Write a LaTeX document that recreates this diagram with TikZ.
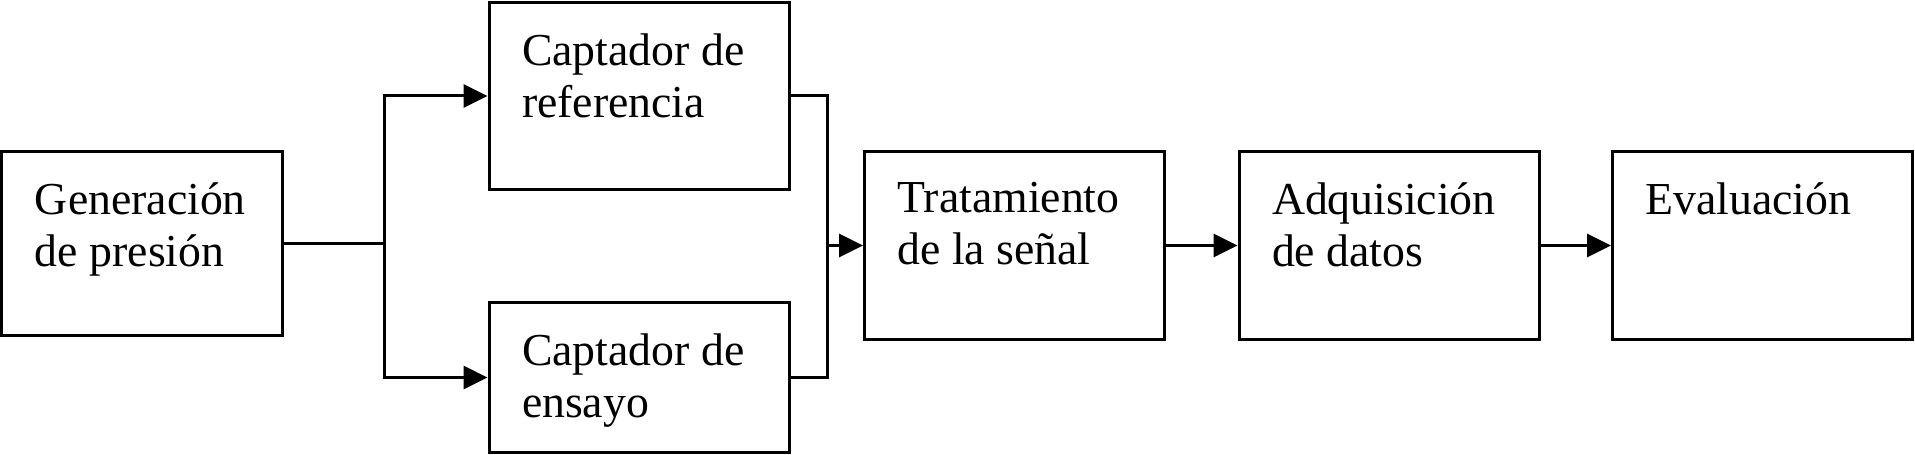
\documentclass[tikz,border=0pt]{standalone}
\usepackage{fontspec}
\setmainfont{Liberation Serif}
\usetikzlibrary{positioning, calc, arrows.meta}

\begin{document}
\begin{tikzpicture}[x=0.4pt, y=0.4pt,
        caja/.style={draw, line width=1.2pt, minimum width=120pt, minimum height=75.2pt, inner sep=0pt},
        texto/.style={anchor=north west, inner sep=0pt, align=left, font=\fontsize{18.3}{20.8}\selectfont},
        linea/.style={line width=1.2pt},
        flecha/.style={linea, -{Triangle[length=9.6pt, width=9.2pt]}}]
        \useasboundingbox (0,0) rectangle (1915,454);
        % bloques
        \node[caja, minimum width=112pt, minimum height=73.6pt] (gen) at (142,210.5) {};
        \node[caja, minimum height=74.4pt] (ref) at (639,358) {};
        \node[caja, minimum height=60pt] (ens) at (639,76.5) {};
        \node[caja] (trat) at (1014.5,208.5) {};
        \node[caja] (adq) at (1389,208.5) {};
        \node[caja] (eval) at (1762.5,208.5) {};
        %
        \node[texto] (gentxt) at ([shift={(34,-32)}]gen.north west) {Generación\\de presión};
        \node[texto] (reftxt) at ([shift={(34,-32)}]ref.north west) {Captador de\\referencia};
        \node[texto] (enstxt) at ([shift={(34,-32)}]ens.north west) {Captador de\\ensayo};
        \node[texto] (trattxt) at ([shift={(34,-32)}]trat.north west) {Tratamiento\\de la señal};
        \node[texto] (adqtxt) at ([shift={(34,-32)}]adq.north west) {Adquisición\\de datos};
        \node[texto] (evaltxt) at ([shift={(34,-32)}]eval.north west) {Evaluación};
        % conexiones
        \coordinate (split) at (384,210.5);
        \coordinate (merge) at (827,208.5);
        \draw[linea] (gen.east) -- (split);
        \draw[flecha] (split) |- (ref.west);
        \draw[flecha] (split) |- (ens.west);
        \draw[linea] (ref.east) -| (merge);
        \draw[linea] (ens.east) -| (merge);
        \draw[flecha] (merge) -- (trat.west);
        \draw[flecha] (trat.east) -- (adq.west);
        \draw[flecha] (adq.east) -- (eval.west);
    \end{tikzpicture}
\end{document}
